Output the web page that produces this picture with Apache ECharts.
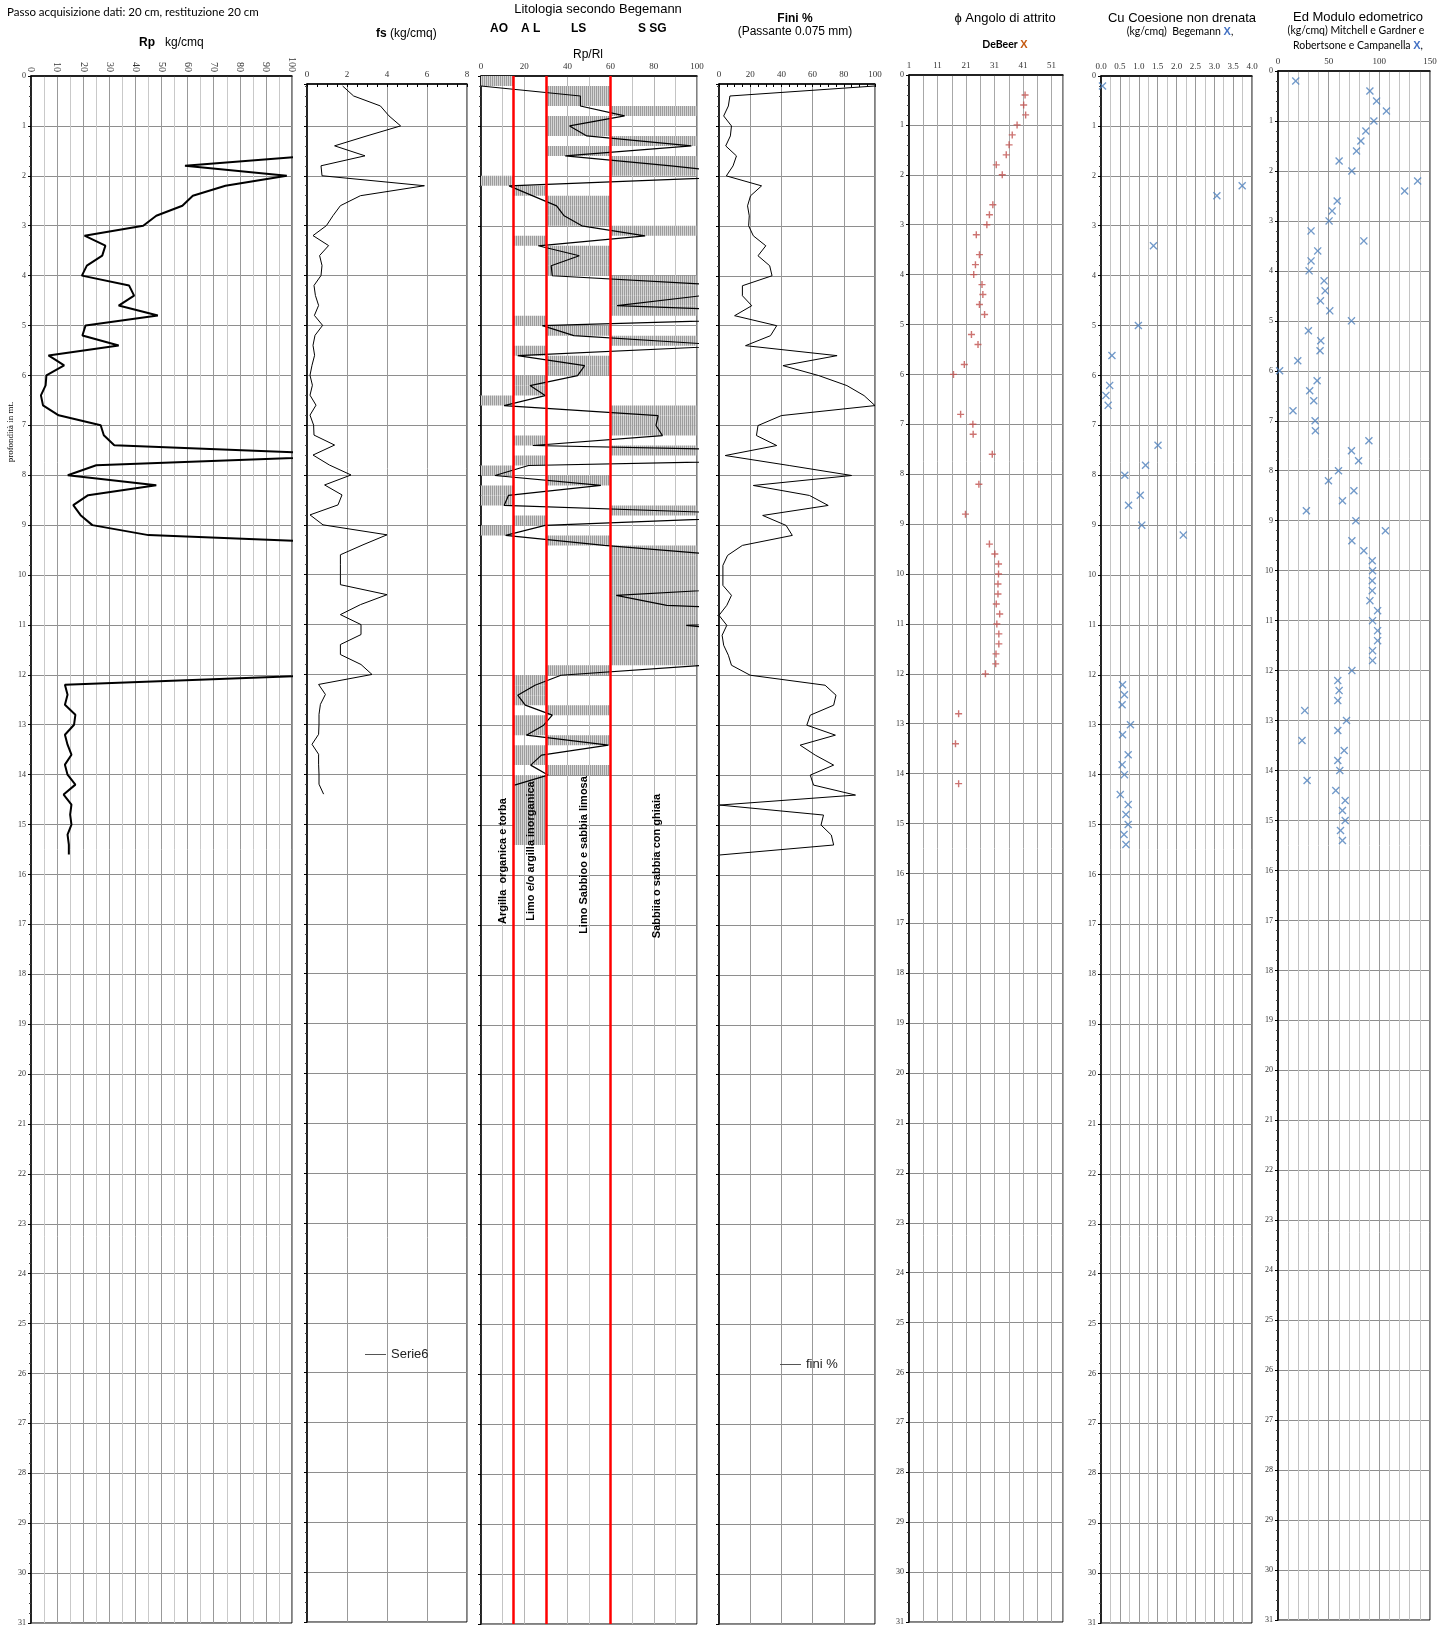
<!DOCTYPE html>
<html>
<head>
<meta charset="utf-8">
<title>Prova penetrometrica</title>
<script src="https://cdn.jsdelivr.net/npm/echarts@6.0.0/dist/echarts.min.js"></script>
<style>
  html, body { margin: 0; padding: 0; background: #fff; }
  #main { width: 1454px; height: 1627px; }
</style>
</head>
<body>
<div id="main"></div>
<script>
// profondità di lettura (m), passo 20 cm
var depths = [
  0.2, 0.4, 0.6, 0.8, 1.0, 1.2, 1.4, 1.6, 1.8, 2.0,
  2.2, 2.4, 2.6, 2.8, 3.0, 3.2, 3.4, 3.6, 3.8, 4.0,
  4.2, 4.4, 4.6, 4.8, 5.0, 5.2, 5.4, 5.6, 5.8, 6.0,
  6.2, 6.4, 6.6, 6.8, 7.0, 7.2, 7.4, 7.6, 7.8, 8.0,
  8.2, 8.4, 8.6, 8.8, 9.0, 9.2, 9.4, 9.6, 9.8, 10.0,
  10.2, 10.4, 10.6, 10.8, 11.0, 11.2, 11.4, 11.6, 11.8, 12.0,
  12.2, 12.4, 12.6, 12.8, 13.0, 13.2, 13.4, 13.6, 13.8, 14.0,
  14.2, 14.4, 14.6, 14.8, 15.0, 15.2, 15.4, 15.6
];

// Rp kg/cmq (oltre 100 = fuori scala)
var rpValues = [
  null, null, null, null, null, null, null, 107, 59, 98,
  74.5, 62, 58, 48, 43, 20.5, 28.5, 27.3, 21.4, 19.5,
  37.6, 39.5, 33.6, 48.6, 20.9, 19.7, 33.6, 6.7, 12.7, 5.9,
  5.6, 3.8, 4.6, 10.6, 26.7, 27.9, 31.9, 130, 25, 14.1,
  48, 21.9, 16.2, 19, 23.5, 45, 145, null, null, null,
  null, null, null, null, null, null, null, null, null, 115,
  13, 14, 13, 17, 16.5, 13, 14, 15.5, 13, 14,
  17, 12.5, 15.5, 15, 15.5, 14, 14.5, 14.5
];

// fs kg/cmq
var fsValues = [
  1.78, 2.33, 3.67, 4.1, 4.68, 3.0, 1.38, 2.9, 0.7, 0.75,
  5.87, 2.67, 1.67, 1.3, 0.97, 0.3, 1.08, 0.63, 0.75, 0.7,
  0.35, 0.42, 0.58, 0.37, 0.78, 0.4, 0.3, 0.38, 0.25, 0.15,
  0.27, 0.15, 0.45, 0.15, 0.33, 0.35, 1.38, 0.3, 1.12, 2.2,
  0.88, 1.75, 1.55, 0.15, 0.8, 4.0, 2.8, 1.67, 1.67, 1.67,
  1.67, 4.0, 2.67, 1.67, 2.7, 2.7, 1.67, 1.67, 2.7, 3.25,
  0.58, 0.92, 0.67, 0.6, 0.6, 0.58, 0.25, 0.58, 0.58, 0.6,
  0.6, 0.83, null, null, null, null, null, null
];

// Rp/Rl
var ratioValues = [
  0, 46, 46, 66.5, 41, 49, 97.4, 39, 88, 130,
  13, 24, 35, 38.5, 46.7, 76, 26.5, 45.5, 32.5, 33,
  117, 102, 63, 190, 28.4, 43, 117, 17, 48, 44.7,
  22.7, 29.7, 10.7, 82, 81, 84, 24, 250, 22, 6.5,
  55.5, 12.7, 10.7, 148, 29.7, 11.4, 57, 114, 120, 120,
  146, 62.6, 86, 200, 95, 140, 130, 130, 104, 37,
  25, 17, 20.5, 33, 29, 21, 59, 28, 23, 31,
  15.5, null, null, null, null, null, null, null
];

// classe litologica per ogni tratto di 20 cm (0 AO, 1 AL, 2 LS, 3 S SG)
var litoClass = [
  0, 2, 2, 3, 2, 2, 3, 2, 3, 3,
  0, 1, 2, 2, 2, 3, 1, 2, 2, 2,
  3, 3, 3, 3, 1, 2, 3, 1, 2, 2,
  1, 1, 0, 3, 3, 3, 1, 3, 1, 0,
  2, 0, 0, 3, 1, 0, 2, 3, 3, 3,
  3, 3, 3, 3, 3, 3, 3, 3, 3, 2,
  1, 1, 1, 2, 1, 1, 2, 1, 1, 2,
  1, 1, 1, 1, 1, 1, 1, null
];
var litoBands = [0, 15, 30, 60, 100];
var litoLimits = [15, 30, 60];

// Fini %
var finiValues = [
  100, 7, 6, 3, 8, 7.3, 4.3, 11.2, 9, 4.7,
  27.3, 20.2, 18.3, 19.4, 19, 22, 30, 25, 32.5, 34,
  15, 15, 21, 10, 37, 33, 17, 75.7, 41, 64,
  82, 93, 100, 40, 25, 24, 37, 4, 45, 85,
  22, 58, 70, 28, 43, 47, 15, 5.5, 2.5, 2.5,
  2.5, 8, 5, 0, 5, 2, 3, 6, 8, 20,
  68, 75, 73.5, 58.5, 56.3, 74.6, 52, 61.7, 73.5, 58.5,
  60.6, 87.5, 0.4, 67, 65.4, 72, 73.5, 0.4
];

// angolo di attrito (De Beer)
var phiValues = [
  null, 41.7, 41.2, 41.9, 38.9, 37.2, 36.1, 35.1, 31.6, 33.7,
  null, null, 30.4, 29.2, 28.3, 24.6, null, 25.7, 24.3, 23.7,
  26.6, 26.9, 25.7, 27.5, null, 22.9, 25.2, null, 20.4, 16.6,
  null, null, null, 19.1, 23.4, 23.5, null, 30.2, null, null,
  25.5, null, null, 20.8, null, null, 29.2, 31.1, 32.4, 32.4,
  32.2, 32.2, 31.6, 32.8, 31.8, 32.5, 32.5, 31.5, 31.4, 27.8,
  null, null, null, 18.4, null, null, 17.3, null, null, null,
  18.4, null, null, null, null, null, null, null
];

// Cu kg/cmq (Begemann)
var cuValues = [
  0.04, null, null, null, null, null, null, null, null, null,
  3.74, 3.07, null, null, null, null, 1.39, null, null, null,
  null, null, null, null, 0.99, null, null, 0.29, null, null,
  0.23, 0.13, 0.19, null, null, null, 1.51, null, 1.18, 0.63,
  null, 1.04, 0.73, null, 1.08, 2.18, null, null, null, null,
  null, null, null, null, null, null, null, null, null, null,
  0.57, 0.62, 0.56, null, 0.78, 0.57, null, 0.72, 0.56, 0.62,
  null, 0.51, 0.72, 0.66, 0.72, 0.61, 0.66, null
];

// Ed kg/cmq
var edValues = [
  17.5, 90.7, 97.3, 107, 94.6, 86.7, 81.8, 77.5, 60.3, 72.9,
  137.8, 125, 58.4, 53.4, 50.4, 32.6, 84.7, 39.2, 32.6, 30.7,
  45.5, 46.5, 41.9, 51.1, 72.5, 30, 42.2, 41.5, 19.5, 1.6,
  38.6, 31.3, 35.3, 14.8, 36.6, 36.9, 89.7, 72.5, 79.5, 59.7,
  49.8, 74.9, 63.6, 28, 76.8, 106, 72.9, 84.7, 93, 93.3,
  93, 93, 90.7, 98.3, 93.3, 98.3, 98.3, 93.3, 93.3, 72.9,
  59, 60.3, 59, 26.4, 67.6, 59, 23.7, 65.3, 59, 61,
  28.7, 57, 66.3, 63.6, 66.3, 61.7, 63.6, null
];

var serif = 'Liberation Serif';
var sans = 'Liberation Sans';

// coppie [valore, profondità]; con keepGaps i vuoti interrompono la linea
function pts(vals, keepGaps) {
  var out = [];
  for (var i = 0; i < depths.length; i++) {
    if (vals[i] == null) {
      if (keepGaps) out.push([null, depths[i]]);
      continue;
    }
    out.push([vals[i], depths[i]]);
  }
  return out;
}

// riempimento a tratteggio verticale per le barre litologiche
var hatch = document.createElement('canvas');
hatch.width = 2;
hatch.height = 4;
var hc = hatch.getContext('2d');
hc.fillStyle = '#d4d4d4';
hc.fillRect(0, 0, 2, 4);
hc.fillStyle = '#9c9c9c';
hc.fillRect(0, 0, 1, 4);

var grids = [
  {left: 31,   top: 76, width: 261, height: 1548},
  {left: 307,  top: 84, width: 160, height: 1538},
  {left: 481,  top: 76, width: 216, height: 1548},
  {left: 719,  top: 84, width: 156, height: 1540},
  {left: 909,  top: 75, width: 154, height: 1547},
  {left: 1101, top: 76, width: 151, height: 1548},
  {left: 1278, top: 71, width: 152, height: 1549}
].map(function (g) {
  g.show = true;
  g.borderColor = '#000';
  g.borderWidth = 1;
  g.containLabel = false;
  return g;
});

function depthAxis(gi, min, labels) {
  var ax = {
    type: 'value', gridIndex: gi, inverse: true, min: min, max: 31,
    axisLine: {show: true, onZero: false, lineStyle: {color: '#000', width: 1.5}},
    axisTick: {show: true, length: 3, lineStyle: {color: '#000'}},
    minorTick: {show: true, splitNumber: 5, length: 2, lineStyle: {color: '#444'}},
    axisLabel: {show: labels, fontFamily: serif, fontSize: 8, color: '#333', margin: 5},
    splitLine: {show: true, lineStyle: {color: '#8e8e8e', width: 1}}
  };
  if (min === 0) {
    ax.interval = 1;
  } else {
    ax.minInterval = 1;
    ax.maxInterval = 1;
  }
  return ax;
}

function topAxis(gi, min, max, interval, opt) {
  var ax = {
    type: 'value', gridIndex: gi, position: 'top', min: min, max: max, interval: interval,
    axisLine: {show: true, onZero: false, lineStyle: {color: '#000', width: 1.5}},
    axisTick: {show: false},
    axisLabel: {fontFamily: serif, fontSize: 9, color: '#333', margin: 5},
    splitLine: {show: true, lineStyle: {color: '#999'}}
  };
  for (var k in opt) ax[k] = opt[k];
  return ax;
}

var xAxes = [
  topAxis(0, 0, 100, 10, {
    axisLabel: {fontFamily: serif, fontSize: 10, color: '#333', rotate: 90, margin: 4},
    minorTick: {show: false, splitNumber: 2},
    minorSplitLine: {show: true, lineStyle: {color: '#c9c9c9'}}
  }),
  topAxis(1, 0, 8, 2, {
    axisTick: {show: true, inside: true, length: 3, lineStyle: {color: '#000'}},
    minorTick: {show: true, splitNumber: 4, length: 3, lineStyle: {color: '#000'}}
  }),
  topAxis(2, 0, 100, 20, {
    splitLine: {show: true, lineStyle: {color: '#b5b5b5'}},
    minorTick: {show: false, splitNumber: 2},
    minorSplitLine: {show: true, lineStyle: {color: '#c4c4c4'}}
  }),
  topAxis(3, 0, 100, 20, {
    axisTick: {show: true, inside: true, length: 3, lineStyle: {color: '#000'}},
    minorTick: {show: true, splitNumber: 4, length: 3, lineStyle: {color: '#000'}}
  }),
  topAxis(4, 1, 55, 5, {
    splitLine: {show: true, lineStyle: {color: '#a8a8a8'}},
    axisLabel: {
      fontFamily: serif, fontSize: 9, color: '#333', margin: 5,
      formatter: function (v) { return (v - 1) % 10 === 0 ? String(v) : ''; }
    }
  }),
  topAxis(5, 0, 4, 0.5, {
    axisLabel: {
      fontFamily: serif, fontSize: 9, color: '#333', margin: 5,
      formatter: function (v) { return v.toFixed(1); }
    },
    minorTick: {show: false, splitNumber: 2},
    minorSplitLine: {show: true, lineStyle: {color: '#c4c4c4'}}
  }),
  topAxis(6, 0, 150, 50, {
    minorTick: {show: false, splitNumber: 5},
    minorSplitLine: {show: true, lineStyle: {color: '#c4c4c4'}}
  })
];

var yAxes = [
  depthAxis(0, 0, true),
  depthAxis(1, 0.16, false),
  depthAxis(2, 0, false),
  depthAxis(3, 0.16, false),
  depthAxis(4, 0, true),
  depthAxis(5, 0, true),
  depthAxis(6, 0, true)
];

var plusPath = 'path://M4,0 L6,0 L6,4 L10,4 L10,6 L6,6 L6,10 L4,10 L4,6 L0,6 L0,4 L4,4 Z';
var crossPath = 'path://M0,1.2 L1.2,0 L5,3.8 L8.8,0 L10,1.2 L6.2,5 L10,8.8 L8.8,10 L5,6.2 L1.2,10 L0,8.8 L3.8,5 Z';

var litoBars = [];
for (var i = 0; i < depths.length; i++) {
  if (litoClass[i] != null) litoBars.push([litoClass[i], depths[i]]);
}

function renderLito(params, api) {
  var cls = api.value(0);
  var d = api.value(1);
  var p1 = api.coord([litoBands[cls], d - 0.2]);
  var p2 = api.coord([litoBands[cls + 1], d]);
  return {
    type: 'rect',
    shape: {x: p1[0], y: p1[1], width: p2[0] - p1[0], height: p2[1] - p1[1]},
    style: {fill: {image: hatch, repeat: 'repeat'}}
  };
}

function txt(text, x, y, font, extra) {
  var el = {
    type: 'text', silent: true, z: 100,
    style: {text: text, x: x, y: y, font: font, fill: '#000',
      align: 'center', verticalAlign: 'middle', textAlign: 'center', textVerticalAlign: 'middle'}
  };
  for (var k in extra) {
    if (k === 'style') {
      for (var s in extra.style) el.style[s] = extra.style[s];
    } else {
      el[k] = extra[k];
    }
  }
  return el;
}

var bold = {fontWeight: 'bold', fontFamily: sans, fontSize: 12};
var blueX = {fontWeight: 'bold', fontFamily: sans, fontSize: 11, fill: '#4472c4'};

var graphics = [
  txt('Passo acquisizione dati: 20 cm, restituzione 20 cm', 7, 12, '11.5px Lato',
    {style: {align: 'left', textAlign: 'left'}}),
  txt('{b|Rp}   kg/cmq', 139, 43, '12px ' + sans,
    {style: {align: 'left', textAlign: 'left', rich: {b: bold}}}),
  txt('{b|fs} (kg/cmq)', 376, 34, '12px ' + sans,
    {style: {align: 'left', textAlign: 'left', rich: {b: bold}}}),
  txt('Litologia secondo Begemann', 598, 9, '13px ' + sans),
  txt('AO', 490, 29, 'bold 12px ' + sans, {style: {align: 'left', textAlign: 'left'}}),
  txt('A L', 521, 29, 'bold 12px ' + sans, {style: {align: 'left', textAlign: 'left'}}),
  txt('LS', 571, 29, 'bold 12px ' + sans, {style: {align: 'left', textAlign: 'left'}}),
  txt('S SG', 638, 29, 'bold 12px ' + sans, {style: {align: 'left', textAlign: 'left'}}),
  txt('Rp/Rl', 573, 55, '12px ' + sans, {style: {align: 'left', textAlign: 'left'}}),
  txt('Fini %', 795, 19, 'bold 12px ' + sans),
  txt('(Passante 0.075 mm)', 795, 32, '12px ' + sans),
  txt('ϕ Angolo di attrito', 1005, 18, '13px ' + sans),
  txt('DeBeer {x|X}', 1005, 45, 'bold 10.5px Lato',
    {style: {rich: {x: {fontWeight: 'bold', fontFamily: sans, fontSize: 11, fill: '#c55a11'}}}}),
  txt('Cu Coesione non drenata', 1182, 18, '13px ' + sans),
  txt('(kg/cmq)  Begemann {x|X},', 1180, 32, '10.5px Lato', {style: {rich: {x: blueX}}}),
  txt('Ed Modulo edometrico', 1358, 17, '13px ' + sans),
  txt('(kg/cmq) Mitchell e Gardner e', 1356, 31, '10.5px Lato'),
  txt('Robertsone e Campanella {x|X},', 1358, 46, '10.5px Lato', {style: {rich: {x: blueX}}}),
  txt('profondità in mt.', 11, 432, '9px ' + serif, {rotation: Math.PI / 2}),
  txt('Argilla  organica e torba', 503, 861, 'bold 11px ' + sans, {rotation: Math.PI / 2}),
  txt('Limo e/o argilla inorganica', 531, 851, 'bold 11px ' + sans, {rotation: Math.PI / 2}),
  txt('Limo Sabbioo e sabbia limosa', 584, 855, 'bold 11px ' + sans, {rotation: Math.PI / 2}),
  txt('Sabbiia o sabbia con ghiaia', 657, 866, 'bold 11px ' + sans, {rotation: Math.PI / 2})
];
// i testi ruotati ruotano intorno al proprio punto di ancoraggio
graphics.forEach(function (g) {
  if (g.rotation) {
    g.x = g.style.x;
    g.y = g.style.y;
    g.style.x = 0;
    g.style.y = 0;
  }
});

var legendText = {fontFamily: sans, fontSize: 13, color: '#222'};

var chart = echarts.init(document.getElementById('main'), null, {renderer: 'canvas'});
chart.setOption({
  animation: false,
  backgroundColor: '#fff',
  grid: grids,
  xAxis: xAxes,
  yAxis: yAxes,
  legend: [
    {data: ['Serie6'], left: 360, top: 1343, icon: 'rect', itemWidth: 21, itemHeight: 1,
      itemGap: 4, selectedMode: false, textStyle: legendText},
    {data: ['fini %'], left: 775, top: 1353, icon: 'rect', itemWidth: 21, itemHeight: 1,
      itemGap: 4, selectedMode: false, textStyle: legendText}
  ],
  graphic: graphics,
  series: [
    {
      type: 'line', name: 'Rp', xAxisIndex: 0, yAxisIndex: 0, data: pts(rpValues, true),
      symbol: 'none', clip: true, lineStyle: {color: '#000', width: 2}
    },
    {
      type: 'line', name: 'Serie6', xAxisIndex: 1, yAxisIndex: 1, data: pts(fsValues),
      symbol: 'none', clip: true, itemStyle: {color: '#555'}, lineStyle: {color: '#000', width: 1}
    },
    {
      type: 'custom', name: 'classi', xAxisIndex: 2, yAxisIndex: 2, data: litoBars,
      renderItem: renderLito, clip: true, silent: true, z: 1
    },
    {
      type: 'line', name: 'Rp/Rl', xAxisIndex: 2, yAxisIndex: 2, data: pts(ratioValues),
      symbol: 'none', clip: true, z: 4, lineStyle: {color: '#000', width: 1.2},
      markLine: {
        silent: true, symbol: ['none', 'none'], label: {show: false},
        lineStyle: {color: '#ff0000', width: 2.5, type: 'solid'},
        data: litoLimits.map(function (v) { return {xAxis: v}; })
      }
    },
    {
      type: 'line', name: 'fini %', xAxisIndex: 3, yAxisIndex: 3, data: pts(finiValues),
      symbol: 'none', clip: true, itemStyle: {color: '#555'}, lineStyle: {color: '#000', width: 1}
    },
    {
      type: 'scatter', name: 'phi', xAxisIndex: 4, yAxisIndex: 4, data: pts(phiValues),
      symbol: plusPath, symbolSize: 7, itemStyle: {color: '#c0504d'}
    },
    {
      type: 'scatter', name: 'Cu', xAxisIndex: 5, yAxisIndex: 5, data: pts(cuValues),
      symbol: crossPath, symbolSize: 8, itemStyle: {color: '#4f81bd'}
    },
    {
      type: 'scatter', name: 'Ed', xAxisIndex: 6, yAxisIndex: 6, data: pts(edValues),
      symbol: crossPath, symbolSize: 8, itemStyle: {color: '#4f81bd'}
    }
  ]
});
</script>
</body>
</html>
